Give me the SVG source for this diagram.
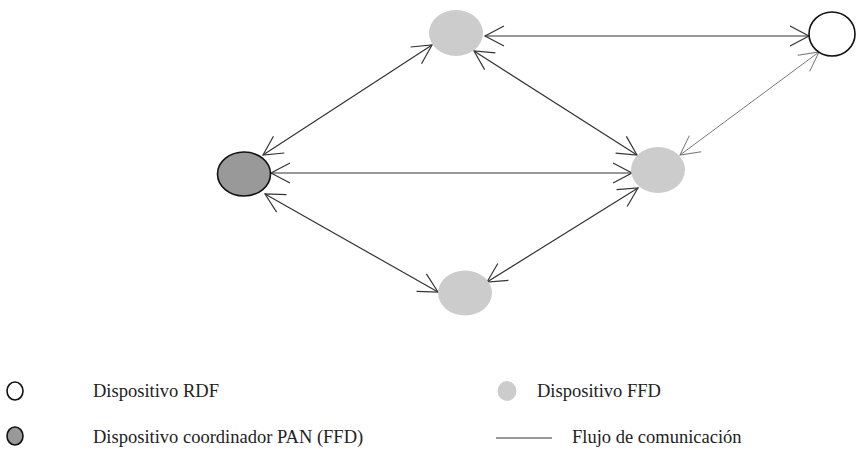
<svg xmlns="http://www.w3.org/2000/svg" width="856" height="463" viewBox="0 0 856 463">
<style>
.ffd{fill:#cccccc;stroke:none}
.rdf{fill:#ffffff;stroke:#111111;stroke-width:1.6}
.pan{fill:#999999;stroke:#111111;stroke-width:1.6}
.c{stroke:#333333;stroke-width:1.2;fill:none;marker-start:url(#ah);marker-end:url(#ah)}
.cl{stroke:#777777;stroke-width:1;fill:none;marker-start:url(#ahl);marker-end:url(#ahl)}
text{font-family:'Liberation Serif','DejaVu Serif','Times New Roman',serif;font-size:18.5px;fill:#222222}
</style>
<defs>
<marker id="ah" markerUnits="userSpaceOnUse" markerWidth="30" markerHeight="30" viewBox="-25 -15 30 30" refX="0" refY="0" orient="auto-start-reverse">
<path d="M-19,-10 L0,0 L-19,10" fill="none" stroke="#333333" stroke-width="1.2"/>
</marker>
<marker id="ahl" markerUnits="userSpaceOnUse" markerWidth="30" markerHeight="30" viewBox="-25 -15 30 30" refX="0" refY="0" orient="auto-start-reverse">
<path d="M-19,-10 L0,0 L-19,10" fill="none" stroke="#777777" stroke-width="1"/>
</marker>
</defs>
<g id="connectors">
<line class="c" x1="809" y1="36" x2="485" y2="36"/>
<line class="c" x1="263" y1="155" x2="432" y2="45"/>
<line class="c" x1="632" y1="173" x2="271" y2="173"/>
<line class="c" x1="438" y1="292" x2="265" y2="194"/>
<line class="c" x1="638" y1="188" x2="487" y2="282"/>
<line class="c" x1="637" y1="155" x2="474" y2="51"/>
<line class="cl" x1="680" y1="155" x2="819" y2="52"/>
</g>
<g id="node-ffd-top"><ellipse class="ffd" cx="456" cy="33" rx="27" ry="23"/></g>
<g id="node-rdf"><ellipse class="rdf" cx="832" cy="34" rx="23" ry="22"/></g>
<g id="node-pan"><ellipse class="pan" cx="244" cy="174" rx="26.5" ry="22"/></g>
<g id="node-ffd-right"><ellipse class="ffd" cx="658" cy="170" rx="27" ry="23"/></g>
<g id="node-ffd-bottom"><ellipse class="ffd" cx="465" cy="293" rx="27" ry="22.5"/></g>
<g id="legend">
<ellipse class="rdf" cx="15" cy="391" rx="8" ry="9"/>
<text x="93" y="397">Dispositivo RDF</text>
<ellipse class="ffd" cx="507" cy="391" rx="9.5" ry="10"/>
<text x="537" y="397">Dispositivo FFD</text>
<ellipse class="pan" cx="15" cy="436" rx="8" ry="9"/>
<text x="93" y="443">Dispositivo coordinador PAN (FFD)</text>
<line x1="496" y1="438" x2="552" y2="438" stroke="#333333" stroke-width="1.2"/>
<text x="572" y="443">Flujo de comunicación</text>
</g>
</svg>
